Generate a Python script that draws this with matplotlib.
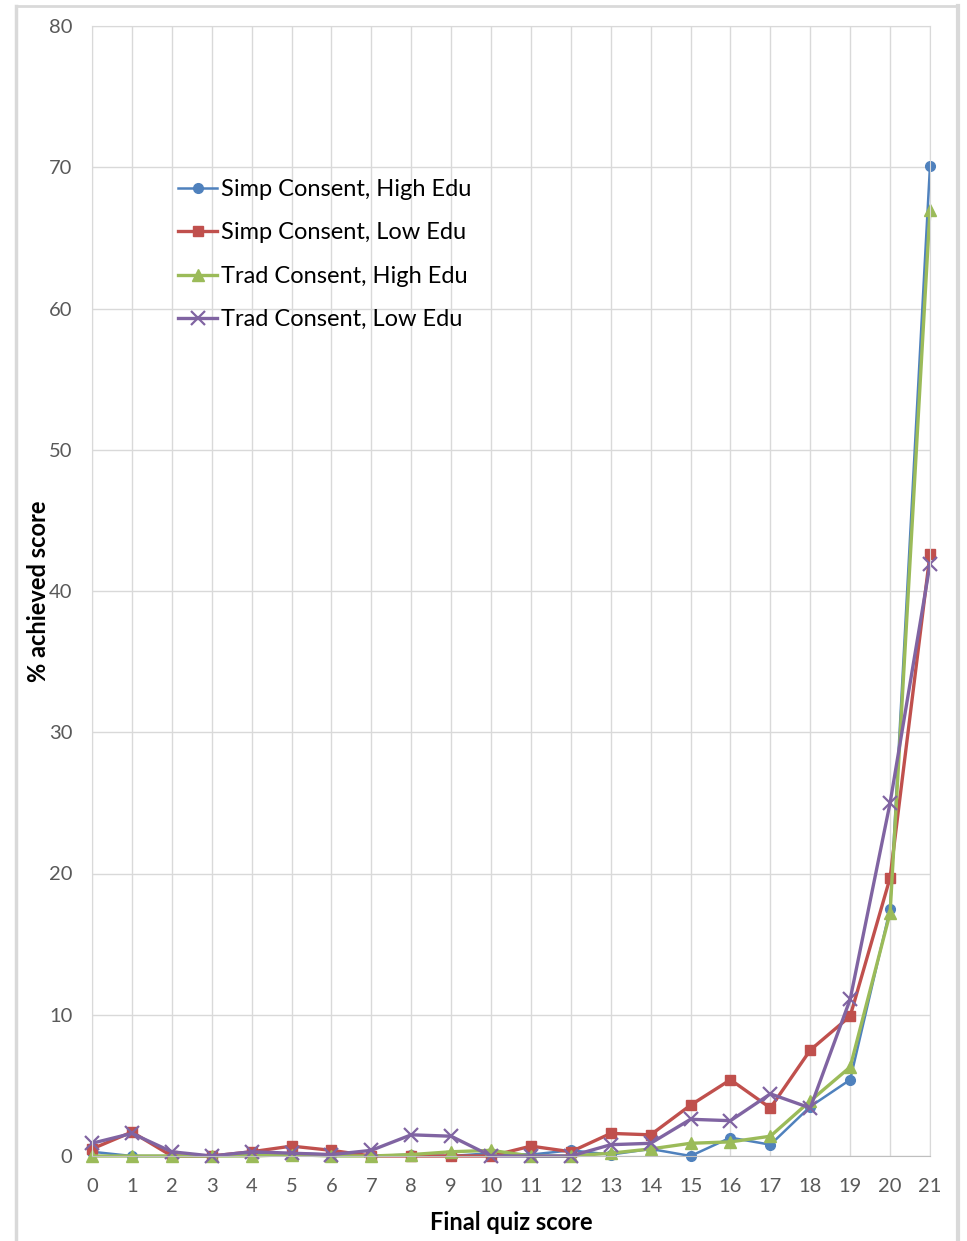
import matplotlib
matplotlib.use("Agg")
import matplotlib.pyplot as plt
from matplotlib.lines import Line2D

plt.rcParams['font.family'] = ['Lato', 'DejaVu Sans']

scores = list(range(22))

simp_high = [0.3, 0, 0, 0, 0.1, 0.2, 0.1, 0, 0.1, 0, 0.2, 0.1, 0.4, 0.1, 0.5, 0,
             1.3, 0.8, 3.5, 5.4, 17.5, 70.1]
simp_low = [0.5, 1.7, 0, 0, 0.3, 0.7, 0.4, 0, 0, 0, 0, 0.7, 0.3, 1.6, 1.5, 3.6,
            5.4, 3.4, 7.5, 9.9, 19.7, 42.6]
trad_high = [0, 0, 0, 0, 0, 0.1, 0, 0, 0.1, 0.3, 0.4, 0, 0, 0.2, 0.5, 0.9,
             1.0, 1.4, 3.9, 6.3, 17.2, 67.0]
trad_low = [0.9, 1.6, 0.3, 0, 0.3, 0.2, 0.1, 0.4, 1.5, 1.4, 0, 0, 0, 0.8, 0.9, 2.6,
            2.5, 4.4, 3.4, 11.1, 25.0, 41.9]

labels = ["Simp Consent, High Edu", "Simp Consent, Low Edu",
          "Trad Consent, High Edu", "Trad Consent, Low Edu"]

fig = plt.figure(figsize=(9.67, 12.41), dpi=100)
ax = fig.add_axes([92 / 967, 85 / 1241, (930 - 92) / 967, (1156 - 26) / 1241])

ax.plot(scores, simp_high, color="#4F81BD", lw=1.8, marker="o", ms=7, label=labels[0])
ax.plot(scores, simp_low, color="#C0504D", lw=2.4, marker="s", ms=7, label=labels[1])
ax.plot(scores, trad_high, color="#9BBB59", lw=2.4, marker="^", ms=9, label=labels[2])
ax.plot(scores, trad_low, color="#8064A2", lw=2.4, marker="x", ms=10, mew=1.6,
        label=labels[3])

ax.set_xlim(0, 21)
ax.set_ylim(0, 80)
ax.set_xticks(scores)
ax.set_yticks(range(0, 81, 10))
ax.grid(True, color="#d9d9d9", lw=1)
ax.set_axisbelow(True)
ax.tick_params(length=0, labelsize=14.5, colors="#595959")
ax.tick_params(axis="x", pad=16)
ax.tick_params(axis="y", pad=14)
for s in ["top", "right", "left"]:
    ax.spines[s].set_color("#d9d9d9")
ax.spines["bottom"].set_color("#bfbfbf")
for ln in ax.lines:
    ln.set_clip_on(False)

ax.set_xlabel("Final quiz score", fontsize=17, fontweight="bold", labelpad=11)
ax.set_ylabel("% achieved score", fontsize=17, fontweight="bold")
ax.yaxis.set_label_coords(-0.05, 0.5)

ax.legend(loc="upper left", bbox_to_anchor=(0.0914, 0.873), frameon=False,
          fontsize=17, handlelength=1.65, handletextpad=0.15, labelspacing=0.95,
          borderaxespad=0)

# outer chart border
fig.add_artist(Line2D([16 / 967, 16 / 967], [0, 1 - 6 / 1241], color="#d9d9d9", lw=2.5,
                      transform=fig.transFigure))
fig.add_artist(Line2D([16 / 967, 958 / 967], [1 - 6 / 1241, 1 - 6 / 1241], color="#d9d9d9",
                      lw=2, transform=fig.transFigure))
fig.add_artist(Line2D([958 / 967, 958 / 967], [0, 1 - 6 / 1241], color="#d9d9d9", lw=3,
                      transform=fig.transFigure))

fig.savefig("out.png", dpi=100)
